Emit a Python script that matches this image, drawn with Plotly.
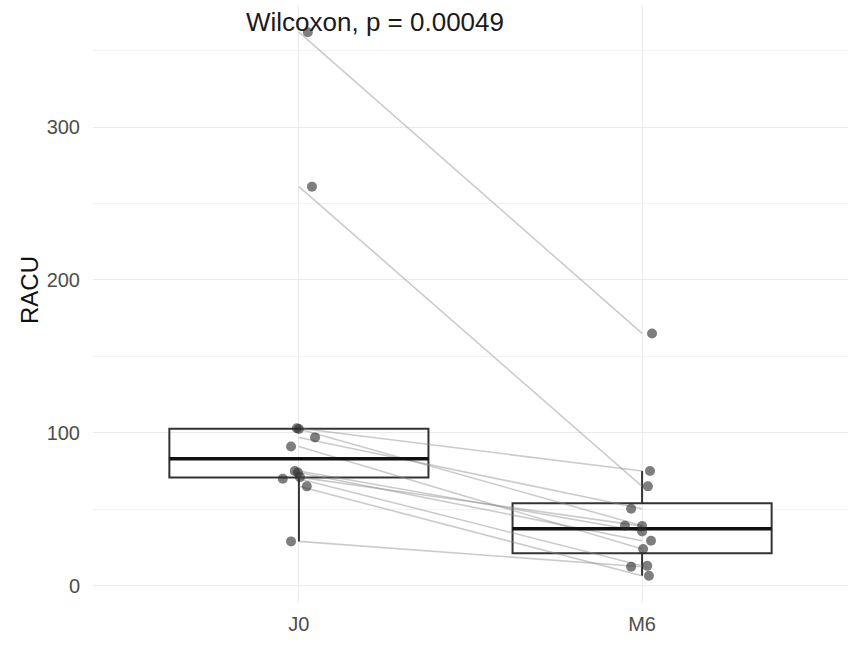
import numpy as np
import plotly.graph_objects as go

categories = ["J0", "M6"]
# paired values (same order = same subject)
j0_values = [362, 261, 103, 97, 102.5, 91, 75, 74, 71, 70, 65, 29]
m6_values = [165, 65, 75, 50.3, 39.2, 24, 35.5, 29.4, 39, 13, 6.5, 12.4]
# horizontal jitter (category units)
j0_jitter = [0.026, 0.038, -0.006, 0.047, 0.0, -0.023, -0.012, -0.003, 0.003, -0.047, 0.023, -0.023]
m6_jitter = [0.029, 0.017, 0.023, -0.032, -0.05, 0.003, 0.0, 0.026, 0.0, 0.015, 0.02, -0.032]
y_ticks = [0, 100, 200, 300]
label_text = "Wilcoxon, p = 0.00049"


def box_stats(vals):
    v = np.sort(np.asarray(vals, dtype=float))
    q1, med, q3 = np.percentile(v, [25, 50, 75])
    iqr = q3 - q1
    lo = v[v >= q1 - 1.5 * iqr].min()
    hi = v[v <= q3 + 1.5 * iqr].max()
    return q1, med, q3, lo, hi


fig = go.Figure()

# paired lines (from category centre to category centre)
for a, b in zip(j0_values, m6_values):
    fig.add_trace(go.Scatter(x=[0, 1], y=[a, b], mode="lines",
                             line=dict(color="rgba(140,140,140,0.45)", width=1.6),
                             hoverinfo="skip", showlegend=False))

# boxes
for i, vals in enumerate([j0_values, m6_values]):
    q1, med, q3, lo, hi = box_stats(vals)
    fig.add_trace(go.Box(x=[i], q1=[q1], median=[med], q3=[q3],
                         lowerfence=[lo], upperfence=[hi], width=0.755,
                         whiskerwidth=0, fillcolor="rgba(0,0,0,0)",
                         line=dict(color="#333333", width=2),
                         showlegend=False))
    fig.add_trace(go.Scatter(x=[i - 0.3775, i + 0.3775], y=[med, med], mode="lines",
                             line=dict(color="#111111", width=3.5),
                             hoverinfo="skip", showlegend=False))

# jittered points
for i, (vals, jit) in enumerate([(j0_values, j0_jitter), (m6_values, m6_jitter)]):
    fig.add_trace(go.Scatter(x=[i + j for j in jit], y=vals, mode="markers",
                             marker=dict(color="rgba(40,40,40,0.6)", size=10, line=dict(width=0)),
                             showlegend=False))

fig.add_annotation(x=-0.16, y=368.5, xref="x", yref="y", text=label_text,
                   showarrow=False, xanchor="left", yanchor="middle",
                   font=dict(family="Liberation Sans, Arial", size=26, color="#1a1a1a"))

fig.add_annotation(x=(29 - 93) / 755, y=(603 - 290) / 598, xref="paper", yref="paper",
                   text="RACU", textangle=-90, showarrow=False,
                   xanchor="center", yanchor="middle",
                   font=dict(family="Liberation Sans, Arial", size=24, color="#111111"))

fig.update_layout(
    width=849, height=653,
    margin=dict(l=93, r=1, t=5, b=50, autoexpand=False),
    paper_bgcolor="white", plot_bgcolor="white",
    showlegend=False,
    xaxis=dict(range=[-0.6, 1.6], tickmode="array", tickvals=[0, 1], ticktext=categories,
               showgrid=True, gridcolor="#EBEBEB", gridwidth=1.2, zeroline=False,
               showline=False, ticks="", ticklabelstandoff=7, automargin=False,
               tickfont=dict(family="Liberation Sans, Arial", size=20, color="#4D4D4D")),
    yaxis=dict(range=[-11.3, 379.8], tickmode="array", tickvals=y_ticks,
               showgrid=True, gridcolor="#EBEBEB", gridwidth=1.2, zeroline=False,
               showline=False, ticks="", ticklabelstandoff=12, automargin=False,
               minor=dict(dtick=50, tick0=0, showgrid=True, gridcolor="#F3F3F3", gridwidth=0.7),
               tickfont=dict(family="Liberation Sans, Arial", size=20, color="#4D4D4D")),
)

fig.write_html("out.html", config={"displayModeBar": False},
               post_script="document.body.style.margin='0';document.body.style.overflow='hidden';")
